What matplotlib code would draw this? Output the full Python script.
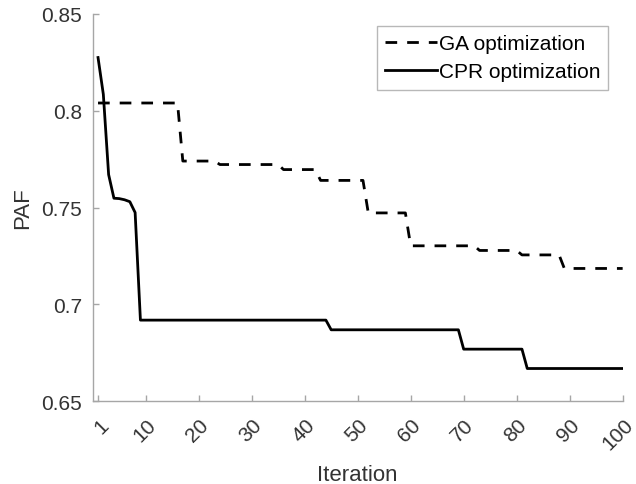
import matplotlib.pyplot as plt
from matplotlib.transforms import ScaledTranslation

plt.rcParams['font.family'] = ['Liberation Sans', 'DejaVu Sans']

# Values (iteration 1..100)
iterations = list(range(1, 101))

# GA optimization: (first iteration, value) of each step
ga_steps = [(1, 0.804), (17, 0.774), (24, 0.7722), (36, 0.7696), (43, 0.764),
            (52, 0.7472), (60, 0.7302), (73, 0.7278), (81, 0.7255), (89, 0.7185)]

# CPR optimization: early iterations, then steps
cpr_start = [0.8275, 0.8085, 0.767, 0.7548, 0.7546, 0.754, 0.753, 0.7474]
cpr_steps = [(9, 0.6918), (45, 0.6868), (70, 0.6768), (82, 0.6668)]


def expand(steps, n=100):
    vals = []
    for i in range(1, n + 1):
        v = None
        for start, val in steps:
            if i >= start:
                v = val
        vals.append(v)
    return vals


ga = expand(ga_steps)
cpr = cpr_start + expand(cpr_steps)[len(cpr_start):]

fig = plt.figure(figsize=(6.36, 4.85), dpi=100)
ax = fig.add_axes([0.1458, 0.1711, 0.8332, 0.7980])

ax.plot(iterations, ga, color='black', linewidth=2, linestyle=(0, (4.2, 3.6)),
        label='GA optimization')
ax.plot(iterations, cpr, color='black', linewidth=2, label='CPR optimization')

ax.set_xlim(0, 100)
ax.set_ylim(0.65, 0.85)
xticks = [1, 10, 20, 30, 40, 50, 60, 70, 80, 90, 100]
ax.set_xticks(xticks)
ax.set_xticklabels([str(t) for t in xticks], rotation=45, ha='right', va='top')
ax.set_yticks([0.65, 0.7, 0.75, 0.8, 0.85])
ax.set_yticklabels(['0.65', '0.7', '0.75', '0.8', '0.85'])

gray = '#a6a6a6'
txt = '#333333'
for side in ['top', 'right']:
    ax.spines[side].set_visible(False)
for side in ['left', 'bottom']:
    ax.spines[side].set_color(gray)
    ax.spines[side].set_linewidth(1.0)
ax.tick_params(direction='in', length=4, width=1, color=gray,
               labelsize=15, labelcolor=txt)
ax.tick_params(axis='y', pad=7.5)
ax.tick_params(axis='x', pad=10)

# MATLAB-like placement of the rotated x labels
shift = ScaledTranslation(14 / 100, 0, fig.dpi_scale_trans)
for lab in ax.get_xticklabels():
    lab.set_transform(lab.get_transform() + shift)

ax.set_xlabel('Iteration', fontsize=16, color=txt, labelpad=8)
ax.set_ylabel('PAF', fontsize=16, color=txt, labelpad=6)

leg = ax.legend(loc='upper right', bbox_to_anchor=(0.973, 0.97), fontsize=15,
                frameon=True, fancybox=False, handlelength=2.5,
                handletextpad=0.05, borderpad=0.4, labelspacing=0.45,
                borderaxespad=0)
leg.get_frame().set_edgecolor(gray)
leg.get_frame().set_linewidth(1.0)

fig.savefig('out.png', dpi=100)
